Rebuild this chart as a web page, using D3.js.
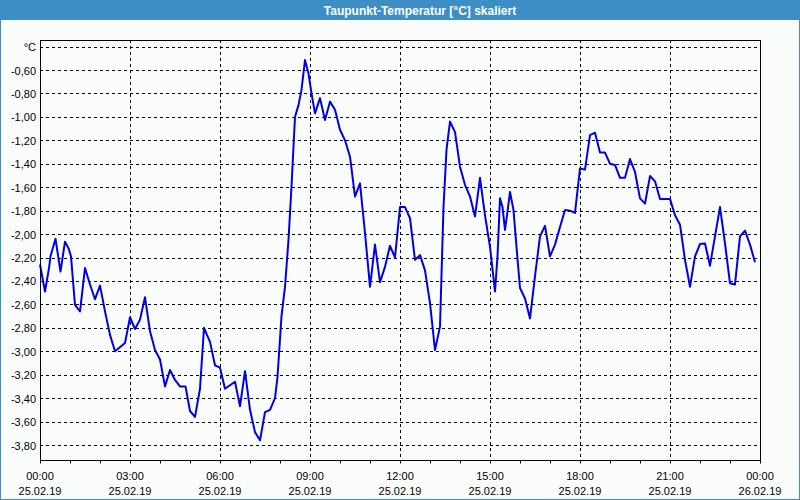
<!DOCTYPE html>
<html><head><meta charset="utf-8">
<script src="https://cdn.jsdelivr.net/npm/d3@7"></script>
<style>
html,body{margin:0;padding:0;background:#fff;}
svg{display:block;}
text{font-family:"Liberation Sans",Arial,sans-serif;}
</style></head>
<body><svg id="c" width="800" height="500"></svg>
<script>
const title = "Taupunkt-Temperatur [°C] skaliert";
// minutes since 25.02.19 00:00
const minutes = [0,10,18,21,31,41,50,57,62,70,80,90,100,110,120,130,140,150,170,180,190,200,210,220,230,240,250,260,270,280,291,300,310,320,328,340,350,360,370,380,390,400,410,420,430,440,450,460,470,475,483,490,497,503,510,517,523,530,537,543,550,560,570,580,590,600,610,620,630,640,650,660,670,680,690,700,710,720,730,740,750,760,770,780,790,800,807,813,820,830,840,850,860,870,880,890,900,910,915,920,925,930,935,940,947,953,960,970,980,990,1000,1010,1020,1030,1040,1050,1060,1070,1080,1090,1100,1110,1120,1130,1140,1150,1160,1170,1180,1190,1200,1210,1220,1230,1240,1250,1260,1270,1280,1290,1300,1310,1320,1330,1340,1350,1360,1370,1380,1390,1400,1410,1420,1430];
const values = [-2.26,-2.49,-2.29,-2.19,-2.04,-2.32,-2.065,-2.12,-2.19,-2.605,-2.66,-2.29,-2.43,-2.556,-2.44,-2.66,-2.86,-3.0,-2.93,-2.71,-2.81,-2.73,-2.54,-2.83,-2.99,-3.07,-3.30,-3.16,-3.245,-3.30,-3.30,-3.51,-3.56,-3.32,-2.80,-2.92,-3.12,-3.14,-3.32,-3.29,-3.26,-3.47,-3.17,-3.50,-3.69,-3.76,-3.52,-3.50,-3.40,-3.22,-2.70,-2.45,-2.05,-1.595,-1.0,-0.90,-0.77,-0.515,-0.63,-0.80,-0.97,-0.84,-1.027,-0.87,-0.94,-1.11,-1.20,-1.34,-1.68,-1.567,-1.99,-2.45,-2.09,-2.41,-2.28,-2.10,-2.20,-1.77,-1.77,-1.865,-2.22,-2.18,-2.31,-2.59,-2.99,-2.79,-1.77,-1.28,-1.04,-1.13,-1.425,-1.58,-1.68,-1.85,-1.52,-1.84,-2.11,-2.49,-2.19,-1.695,-1.77,-1.965,-1.81,-1.64,-1.795,-2.11,-2.46,-2.55,-2.72,-2.36,-2.02,-1.93,-2.19,-2.09,-1.94,-1.795,-1.80,-1.82,-1.44,-1.45,-1.155,-1.135,-1.305,-1.305,-1.40,-1.41,-1.52,-1.52,-1.36,-1.47,-1.695,-1.74,-1.505,-1.55,-1.70,-1.70,-1.70,-1.84,-1.92,-2.22,-2.45,-2.19,-2.085,-2.08,-2.27,-2.02,-1.77,-2.08,-2.42,-2.43,-2.02,-1.97,-2.09,-2.24];
const yTicks = [-0.4,-0.6,-0.8,-1.0,-1.2,-1.4,-1.6,-1.8,-2.0,-2.2,-2.4,-2.6,-2.8,-3.0,-3.2,-3.4,-3.6,-3.8];
const yTickLabels = ["°C","-0,60","-0,80","-1,00","-1,20","-1,40","-1,60","-1,80","-2,00","-2,20","-2,40","-2,60","-2,80","-3,00","-3,20","-3,40","-3,60","-3,80"];
const xMajor = [0,180,360,540,720,900,1080,1260,1440];
const xTimeLabels = ["00:00","03:00","06:00","09:00","12:00","15:00","18:00","21:00","00:00"];
const xDateLabels = ["25.02.19","25.02.19","25.02.19","25.02.19","25.02.19","25.02.19","25.02.19","25.02.19","26.02.19"];
const xMinor = d3.range(0,1441,60);

const svg = d3.select("#c");
const W=800,H=500;
const L=40,T=40,R=760,B=460;
const blue="#3c8ec4";

svg.append("rect").attr("x",0).attr("y",0).attr("width",W).attr("height",H).attr("fill","#fbfdfc");
svg.append("rect").attr("x",0.5).attr("y",0.5).attr("width",W-1).attr("height",H-1).attr("fill","none").attr("stroke",blue);
svg.append("rect").attr("x",0).attr("y",0).attr("width",W).attr("height",20).attr("fill",blue);
svg.append("text").attr("x",420).attr("y",14.5).attr("text-anchor","middle").attr("fill","#fff")
  .attr("font-weight","bold").attr("font-size","12px").text(title);

const x = d3.scaleLinear().domain([0,1440]).range([L,R]);
const y = d3.scaleLinear().domain([-0.6,-3.8]).range([70,445]);

// grid
const g = svg.append("g");
g.selectAll("line.h").data(yTicks).join("line")
  .attr("x1",L).attr("x2",R).attr("y1",d=>Math.round(y(d))+0.5).attr("y2",d=>Math.round(y(d))+0.5)
  .attr("stroke","#000").attr("stroke-dasharray","3,3");
g.selectAll("line.v").data(xMajor.slice(1,-1)).join("line")
  .attr("y1",T).attr("y2",B).attr("x1",d=>Math.round(x(d))+0.5).attr("x2",d=>Math.round(x(d))+0.5)
  .attr("stroke","#000").attr("stroke-dasharray","3,3");

// line
const line = d3.line().x((d,i)=>x(minutes[i])).y(d=>y(d));
svg.append("path").datum(values).attr("d",line).attr("fill","none").attr("stroke","#0000e6").attr("stroke-width",2).attr("stroke-linejoin","round");

// frame
svg.append("rect").attr("x",L+0.5).attr("y",T+0.5).attr("width",R-L).attr("height",B-T).attr("fill","none").attr("stroke","#000");

// y axis labels
const yAxis = d3.axisLeft(y).tickValues(yTicks).tickSize(0).tickPadding(4)
  .tickFormat((d,i)=>yTickLabels[i]);
const ya = svg.append("g").attr("transform",`translate(${L},0.5)`).call(yAxis);
ya.select(".domain").remove();
ya.selectAll("text").attr("font-size","11px").attr("font-family","Liberation Sans, Arial, sans-serif").attr("fill","#000");

// x axis minor ticks
const xAxis = d3.axisBottom(x).tickValues(xMinor).tickSize(3).tickFormat("");
const xa = svg.append("g").attr("transform",`translate(0.5,${B+0.5})`).call(xAxis);
xa.select(".domain").remove();
xa.selectAll(".tick line").attr("stroke","#000").attr("transform","translate(-0.5,0)");

const lab = svg.append("g");
lab.selectAll("text.t").data(xMajor).join("text")
  .attr("x",d=>x(d)).attr("y",480).attr("text-anchor","middle").attr("font-size","11px").attr("fill","#000")
  .text((d,i)=>xTimeLabels[i]);
lab.selectAll("text.d").data(xMajor).join("text")
  .attr("x",d=>x(d)).attr("y",494.5).attr("text-anchor","middle").attr("font-size","11px").attr("fill","#000")
  .text((d,i)=>xDateLabels[i]);
</script></body></html>
